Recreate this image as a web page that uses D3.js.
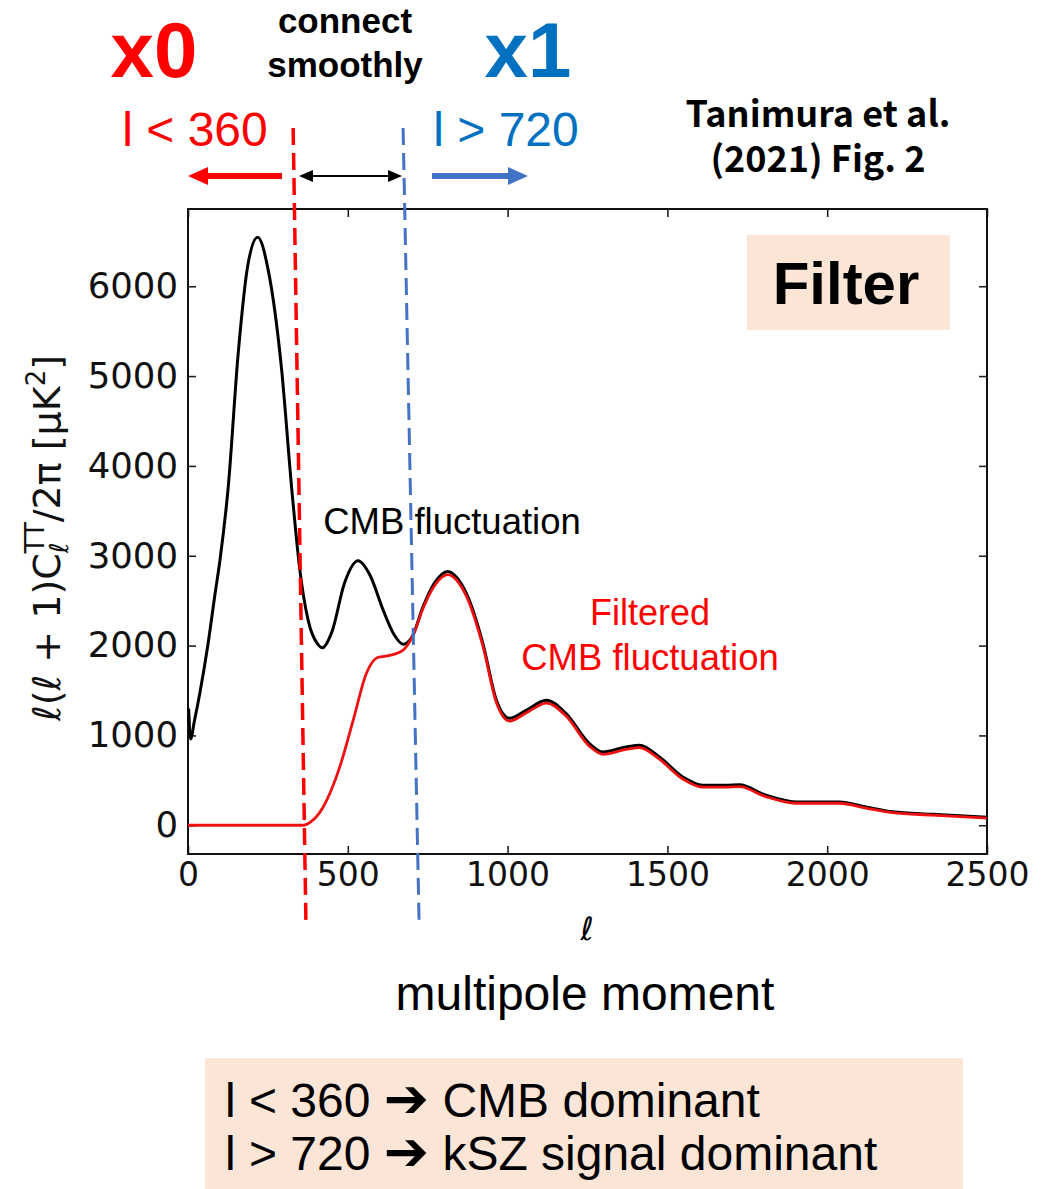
<!DOCTYPE html>
<html>
<head>
<meta charset="utf-8">
<script src="https://cdn.jsdelivr.net/npm/d3@7"></script>
<style>
  body { margin: 0; background: #fff; }
  svg { display: block; }
  .tick text { font-family: "DejaVu Sans", sans-serif; fill: #111; }
</style>
</head>
<body>
<div id="chart"></div>
<script>
// CMB temperature power spectrum and its filtered version

// multipoles and l(l+1)C_l/2pi [uK^2] for the full CMB spectrum
var ells = [2, 8, 20, 37, 63, 84, 100, 126, 157, 188, 218, 251, 293, 324, 350, 376, 407, 420,
  450, 490, 532, 570, 610, 645, 673, 700, 735, 770, 813, 840, 871, 923, 965, 1006, 1058,
  1121, 1183, 1256, 1298, 1371, 1413, 1475, 1548, 1610, 1683, 1725, 1808, 1902, 2038,
  2121, 2204, 2329, 2500];
var cmbTT = [1300, 960, 1160, 1470, 2025, 2560, 2950, 3770, 5250, 6250, 6545, 6180, 5070, 3770,
  2840, 2280, 2010, 1975, 2150, 2700, 2945, 2780, 2400, 2120, 2015, 2090, 2430, 2690,
  2825, 2760, 2580, 2020, 1390, 1190, 1280, 1392, 1243, 909, 816, 872, 891, 760, 538,
  445, 445, 450, 334, 260, 258, 204, 150, 122, 90];

// filtered spectrum: zero below l=360, joins the full one above l=720
var ellsFiltered = [0, 360, 385, 423, 475, 517, 558, 595, 631, 673, 704, 735, 770, 813,
  840, 871, 923, 965, 1006, 1058, 1121, 1183, 1256, 1298, 1371, 1413, 1475, 1548, 1610,
  1683, 1725, 1808, 1902, 2038, 2121, 2204, 2329, 2500];
var filteredTT = [0, 0, 40, 204, 650, 1170, 1690, 1870, 1890, 1950, 2110, 2410, 2660, 2790,
  2730, 2550, 1990, 1365, 1160, 1250, 1360, 1215, 880, 790, 845, 865, 735, 515, 425,
  425, 430, 318, 245, 245, 192, 140, 113, 80];

var xTicks = [0, 500, 1000, 1500, 2000, 2500];
var yTicks = [0, 1000, 2000, 3000, 4000, 5000, 6000];

// dashed cut lines, l at the top and bottom end
var cutLow = [329, 369];
var cutHigh = [673, 723];

var W = 1060, H = 1189;
var plotLeft = 188, plotRight = 987, plotTop = 209, plotBottom = 854;

var svg = d3.select("#chart").append("svg")
  .attr("width", W).attr("height", H);

var x = d3.scaleLinear().domain([0, 2500]).range([plotLeft, plotRight]);
var y = d3.scaleLinear().domain([-320, 6860]).range([plotBottom, plotTop]);

// axes, ticks pointing inward on all four sides
svg.append("g")
  .attr("transform", "translate(0," + plotBottom + ")")
  .call(d3.axisBottom(x).tickValues(xTicks).tickFormat(d3.format("d"))
    .tickSizeInner(-8).tickSizeOuter(0).tickPadding(9))
  .call(function(g) { g.select(".domain").remove(); })
  .selectAll("text").style("font-size", "33px");

svg.append("g")
  .attr("transform", "translate(" + plotLeft + ",0)")
  .call(d3.axisLeft(y).tickValues(yTicks).tickFormat(d3.format("d"))
    .tickSizeInner(-8).tickSizeOuter(0).tickPadding(10))
  .call(function(g) { g.select(".domain").remove(); })
  .selectAll("text").style("font-size", "35.5px");

svg.append("g")
  .attr("transform", "translate(0," + plotTop + ")")
  .call(d3.axisTop(x).tickValues(xTicks).tickSizeInner(-8).tickSizeOuter(0).tickFormat(""))
  .call(function(g) { g.select(".domain").remove(); });

svg.append("g")
  .attr("transform", "translate(" + plotRight + ",0)")
  .call(d3.axisRight(y).tickValues(yTicks).tickSizeInner(-8).tickSizeOuter(0).tickFormat(""))
  .call(function(g) { g.select(".domain").remove(); });

svg.selectAll(".tick line").attr("stroke", "#222").attr("stroke-width", 1.6);

svg.append("rect")
  .attr("x", plotLeft).attr("y", plotTop)
  .attr("width", plotRight - plotLeft).attr("height", plotBottom - plotTop)
  .attr("fill", "none").attr("stroke", "#111").attr("stroke-width", 2);

// curves
var line = d3.line()
  .x(function(d) { return x(d[0]); })
  .y(function(d) { return y(d[1]); })
  .curve(d3.curveMonotoneX);

svg.append("path")
  .datum(d3.zip(ells, cmbTT))
  .attr("d", line)
  .attr("fill", "none").attr("stroke", "#000").attr("stroke-width", 3);

svg.append("path")
  .datum(d3.zip(ellsFiltered, filteredTT))
  .attr("d", line)
  .attr("fill", "none").attr("stroke", "#ee1111").attr("stroke-width", 2.8);

// cut lines
svg.append("line")
  .attr("x1", x(cutLow[0])).attr("y1", 128)
  .attr("x2", x(cutLow[1])).attr("y2", 922)
  .attr("stroke", "#ff0000").attr("stroke-width", 3.5).attr("stroke-dasharray", "17,8");

svg.append("line")
  .attr("x1", x(cutHigh[0])).attr("y1", 128)
  .attr("x2", x(cutHigh[1])).attr("y2", 922)
  .attr("stroke", "#4472c4").attr("stroke-width", 3).attr("stroke-dasharray", "17,8");

// arrows above the plot
function arrowHead(tipX, yy, dir, len, half, color) {
  svg.append("polygon")
    .attr("points", [[tipX, yy], [tipX - dir * len, yy - half], [tipX - dir * len, yy + half]].join(" "))
    .attr("fill", color);
}
svg.append("line").attr("x1", 282).attr("x2", 204).attr("y1", 176).attr("y2", 176)
  .attr("stroke", "#ff0000").attr("stroke-width", 6);
arrowHead(188, 176, -1, 20, 9, "#ff0000");

svg.append("line").attr("x1", 310).attr("x2", 392).attr("y1", 176).attr("y2", 176)
  .attr("stroke", "#000").attr("stroke-width", 2);
arrowHead(299, 176, -1, 14, 6, "#000");
arrowHead(402, 176, 1, 14, 6, "#000");

svg.append("line").attr("x1", 432).attr("x2", 512).attr("y1", 176).attr("y2", 176)
  .attr("stroke", "#4472c4").attr("stroke-width", 6);
arrowHead(528, 176, 1, 20, 9, "#4472c4");

// labels
var sans = "'Liberation Sans', Arial, sans-serif";

function label(txt, xx, yy, size, color, weight, anchor, family) {
  return svg.append("text")
    .attr("x", xx).attr("y", yy)
    .attr("text-anchor", anchor || "middle")
    .style("font-family", family || sans)
    .style("font-size", size + "px")
    .style("font-weight", weight || "normal")
    .attr("fill", color)
    .text(txt);
}

label("x0", 154, 77, 78, "#ff0000", "bold");
label("x1", 528, 77, 78, "#0070c0", "bold");
label("connect", 345, 33, 35, "#000", "bold");
label("smoothly", 345, 77, 35, "#000", "bold");
label("l < 360", 195, 146, 48, "#ff0000");
label("l > 720", 506, 146, 48, "#0070c0");

var cjk = "'Noto Sans CJK JP', 'Noto Sans', sans-serif";
label("Tanimura et al.", 818, 127, 36, "#000", "bold", "middle", cjk);
label("(2021) Fig. 2", 818, 172, 36, "#000", "bold", "middle", cjk);

svg.append("rect").attr("x", 747).attr("y", 235).attr("width", 203).attr("height", 95)
  .attr("fill", "#fbe5d6");
label("Filter", 846, 304, 60, "#000", "bold");

label("CMB fluctuation", 452, 534, 36.5, "#000");
label("Filtered", 650, 625, 36, "#ff0000");
label("CMB fluctuation", 650, 670, 36.5, "#ff0000");

// axis titles
svg.append("text")
  .attr("x", 587).attr("y", 940)
  .attr("text-anchor", "middle")
  .style("font-family", "'DejaVu Sans', sans-serif")
  .style("font-size", "32px").style("font-style", "italic")
  .text("ℓ");

var ylab = svg.append("text")
  .attr("transform", "translate(60,538) rotate(-90)")
  .attr("text-anchor", "middle")
  .style("font-family", "'DejaVu Sans', sans-serif")
  .style("font-size", "38px")
  .attr("fill", "#111");
ylab.append("tspan").style("font-style", "italic").text("ℓ");
ylab.append("tspan").text("(");
ylab.append("tspan").style("font-style", "italic").text("ℓ");
ylab.append("tspan").text(" + 1)C");
ylab.append("tspan").style("font-style", "italic").style("font-size", "26px").attr("dy", 8).text("ℓ");
ylab.append("tspan").style("font-size", "26px").attr("dx", -11).attr("dy", -24).text("TT");
ylab.append("tspan").attr("dy", 16).text("/2π [μK");
ylab.append("tspan").style("font-size", "26px").attr("dy", -15).text("2");
ylab.append("tspan").attr("dy", 15).text("]");

label("multipole moment", 585, 1010, 48, "#000");

// summary box
svg.append("rect").attr("x", 205).attr("y", 1058).attr("width", 758).attr("height", 131)
  .attr("fill", "#fbe5d6");

function summary(parts, yy) {
  var t = svg.append("text").attr("x", 225).attr("y", yy)
    .style("font-family", sans).style("font-size", "48px").attr("fill", "#000");
  t.append("tspan").text(parts[0] + " ");
  t.append("tspan").style("font-family", "'DejaVu Sans', sans-serif")
    .style("font-weight", "bold").style("font-size", "54px").text("➔");
  t.append("tspan").text(" " + parts[1]);
}
summary(["l < 360", "CMB dominant"], 1117);
summary(["l > 720", "kSZ signal dominant"], 1170);
</script>
</body>
</html>
